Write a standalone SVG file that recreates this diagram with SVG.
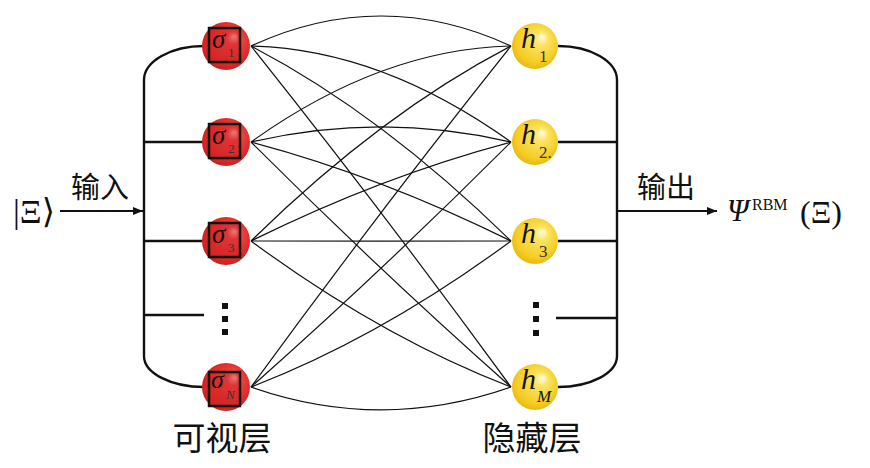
<svg xmlns="http://www.w3.org/2000/svg" width="870" height="468" viewBox="0 0 870 468">
<defs>
<radialGradient id="gRed" cx="0.55" cy="0.45" r="0.6" fx="0.68" fy="0.3">
<stop offset="0" stop-color="#ffe4e4"/>
<stop offset="0.22" stop-color="#ee4a4a"/>
<stop offset="0.7" stop-color="#df2b2b"/>
<stop offset="1" stop-color="#c81f1f"/>
</radialGradient>
<radialGradient id="gYel" cx="0.5" cy="0.45" r="0.6" fx="0.68" fy="0.3">
<stop offset="0" stop-color="#fffbe6"/>
<stop offset="0.25" stop-color="#fbe462"/>
<stop offset="0.75" stop-color="#f4cc24"/>
<stop offset="1" stop-color="#e3b208"/>
</radialGradient>
<marker id="arr" viewBox="0 0 10 10" refX="10" refY="5" markerWidth="10" markerHeight="10" markerUnits="userSpaceOnUse" orient="auto">
<path d="M0,1 L10,5 L0,9 z" fill="#111"/>
</marker>
<style>
.vis{fill:url(#gRed);}
.hid{fill:url(#gYel);}
.sq{fill:#d42424;fill-opacity:0.55;stroke:#111;stroke-width:2.5;}
.conn{fill:none;stroke:#111;stroke-width:1.2;}
.br{fill:none;stroke:#111;stroke-width:2.4;}
.sym{font-family:"Liberation Serif","DejaVu Serif",serif;font-style:italic;fill:#111;}
.sub{font-family:"Liberation Serif","DejaVu Serif",serif;fill:#333;}
.cjk{font-family:"Noto Sans CJK SC","Noto Sans CJK JP",sans-serif;fill:#111;}
.dot{fill:#111;}
</style>
</defs>
<rect width="870" height="468" fill="#fff"/>

<g id="connectors">
<path class="conn" d="M251,46 Q381,-14 511,46"/>
<path class="conn" d="M251,46 Q381,49 511,142"/>
<path class="conn" d="M251,46 Q381,113.5 511,241"/>
<path class="conn" d="M251,46 Q381,209 511,387"/>
<path class="conn" d="M251,142 Q381,49 511,46"/>
<path class="conn" d="M251,142 Q381,111.6 511,142"/>
<path class="conn" d="M251,142 Q381,176.5 511,241"/>
<path class="conn" d="M251,142 Q381,272 511,387"/>
<path class="conn" d="M251,241 Q381,113.5 511,46"/>
<path class="conn" d="M251,241 Q381,176.5 511,142"/>
<path class="conn" d="M251,241 Q381,241.3 511,241"/>
<path class="conn" d="M251,241 Q381,337 511,387"/>
<path class="conn" d="M251,387 Q381,209 511,46"/>
<path class="conn" d="M251,387 Q381,272 511,142"/>
<path class="conn" d="M251,387 Q381,337 511,241"/>
<path class="conn" d="M251,387 Q381,432.6 511,387"/>
<!-- left bracket -->
<path class="br" d="M204,46 A60,34 0 0 0 144,80 L144,356 A60,31 0 0 0 204,387"/>
<path class="br" d="M144,142 H204 M144,241 H204 M144,315 H204"/>
<!-- right bracket -->
<path class="br" d="M558,46 A59,34 0 0 1 617,80 L617,356 A59,31 0 0 1 558,387"/>
<path class="br" d="M558,142 H617 M558,241 H617 M556,318 H617"/>
<!-- input/output arrows -->
<path class="conn" style="stroke-width:2" d="M60,211 H143" marker-end="url(#arr)"/>
<path class="conn" style="stroke-width:2" d="M617,211 H717" marker-end="url(#arr)"/>
</g>

<g id="v1">
<circle class="vis" cx="226" cy="46" r="24"/>
<rect class="sq" x="209" y="28" width="31" height="34"/>
<text class="sym" x="212" y="48" font-size="27">σ</text>
<text class="sub" x="228" y="57" font-size="13">1</text>
</g>
<g id="v2">
<circle class="vis" cx="226" cy="142" r="24"/>
<rect class="sq" x="209" y="124" width="31" height="34"/>
<text class="sym" x="212" y="144" font-size="27">σ</text>
<text class="sub" x="228" y="153" font-size="13">2</text>
</g>
<g id="v3">
<circle class="vis" cx="226" cy="241" r="24"/>
<rect class="sq" x="209" y="223" width="31" height="34"/>
<text class="sym" x="212" y="243" font-size="27">σ</text>
<text class="sub" x="228" y="252" font-size="13">3</text>
</g>
<g id="vdots">
<rect class="dot" x="222" y="303" width="6" height="6"/>
<rect class="dot" x="222" y="316" width="6" height="6"/>
<rect class="dot" x="222" y="329" width="6" height="6"/>
</g>
<g id="vN">
<circle class="vis" cx="226" cy="387" r="24"/>
<rect class="sq" x="209" y="372" width="31" height="34"/>
<text class="sym" x="211" y="388" font-size="26">σ</text>
<text class="sym" x="226" y="399" font-size="13" style="fill:#333">N</text>
</g>

<g id="h1">
<circle class="hid" cx="535" cy="46" r="23"/>
<text class="sym" x="521" y="48" font-size="30">h</text>
<text class="sub" x="539" y="62" font-size="17">1</text>
</g>
<g id="h2">
<circle class="hid" cx="535" cy="142" r="23"/>
<text class="sym" x="521" y="144" font-size="30">h</text>
<text class="sub" x="539" y="158" font-size="17">2.</text>
</g>
<g id="h3">
<circle class="hid" cx="535" cy="241" r="23"/>
<text class="sym" x="521" y="243" font-size="30">h</text>
<text class="sub" x="539" y="257" font-size="17">3</text>
</g>
<g id="hdots">
<rect class="dot" x="533" y="302" width="6" height="6"/>
<rect class="dot" x="533" y="316" width="6" height="6"/>
<rect class="dot" x="533" y="330" width="6" height="6"/>
</g>
<g id="hM">
<circle class="hid" cx="535" cy="387" r="23"/>
<text class="sym" x="521" y="389" font-size="30">h</text>
<text class="sym" x="537" y="402" font-size="17">M</text>
</g>

<g id="labels">
<text class="cjk" x="222" y="450" font-size="33" text-anchor="middle">可视层</text>
<text class="cjk" x="532" y="450" font-size="33" text-anchor="middle">隐藏层</text>
<text class="cjk" x="100" y="198" font-size="29" text-anchor="middle">输入</text>
<text class="cjk" x="666" y="198" font-size="29" text-anchor="middle">输出</text>
<text font-family="Liberation Serif, DejaVu Serif, serif" font-size="34" x="13" y="223" fill="#111">|Ξ⟩</text>
<text class="sym" x="727" y="221" font-size="31">Ψ</text>
<text class="sub" x="752" y="210" font-size="16" style="fill:#111">RBM</text>
<text class="sub" x="800" y="223" font-size="32" style="fill:#111">(Ξ)</text>
</g>
</svg>
